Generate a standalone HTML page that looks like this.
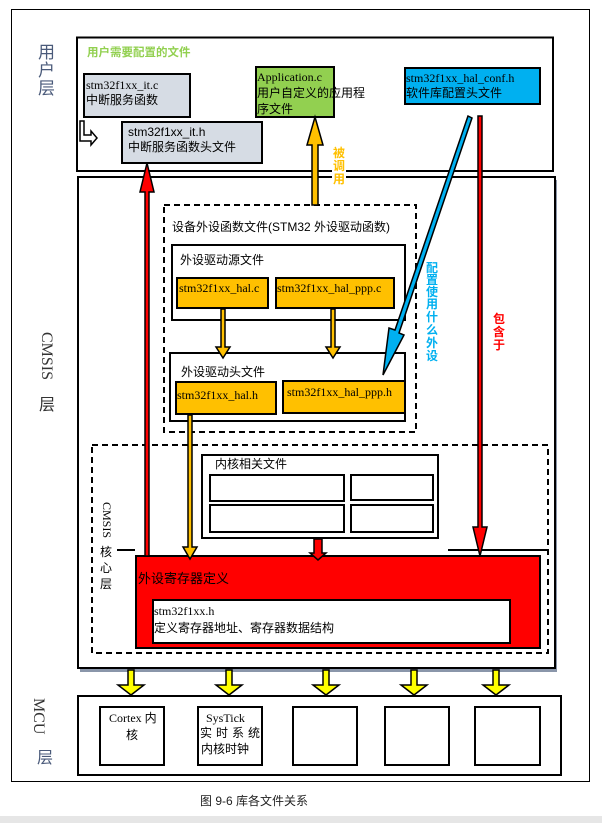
<!DOCTYPE html>
<html><head><meta charset="utf-8"><style>
html,body{margin:0;padding:0;background:#fff;}
svg{display:block;}
text{font-family:"Liberation Serif","Noto Sans CJK SC",serif;}
.s{font-family:"Liberation Sans","Noto Sans CJK SC",sans-serif;}
</style></head><body>
<svg width="602" height="823" viewBox="0 0 602 823" xmlns="http://www.w3.org/2000/svg">
<rect x="0" y="0" width="602" height="823" fill="#fff"/>
<rect x="11.5" y="9.5" width="578" height="772" fill="none" stroke="#000" stroke-width="1"/>
<rect x="0" y="816" width="602" height="7" fill="#e6e6e6"/>

<!-- user layer -->
<text x="38" y="58" font-size="17" fill="#4a5a7a" class="s">用</text>
<text x="38" y="76" font-size="17" fill="#4a5a7a" class="s">户</text>
<text x="38" y="94" font-size="17" fill="#4a5a7a" class="s">层</text>
<rect x="77" y="37.5" width="476" height="133.5" fill="none" stroke="#000" stroke-width="2"/>
<text x="87" y="56" font-size="11.5" font-weight="bold" fill="#92d050" class="s">用户需要配置的文件</text>
<rect x="84" y="74" width="106" height="43" fill="#d6dce4" stroke="#000" stroke-width="2"/>
<text x="86" y="89" font-size="12">stm32f1xx_it.c</text>
<text x="86" y="104" font-size="12" class="s">中断服务函数</text>
<path d="M84 121 v14 h7 v-4 l6 7 l-6 7 v-4 h-11 v-20z" fill="#fff" stroke="#000" stroke-width="1.5"/>
<rect x="122" y="122" width="140" height="41" fill="#d6dce4" stroke="#000" stroke-width="2"/>
<text x="128" y="136" font-size="12" class="s">stm32f1xx_it.h</text>
<text x="128" y="151" font-size="12" class="s">中断服务函数头文件</text>
<rect x="256" y="67" width="78" height="50" fill="#92d050" stroke="#000" stroke-width="2"/>
<text x="257" y="81" font-size="12">Application.c</text>
<text x="257" y="97" font-size="12" class="s">用户自定义的应用程</text>
<text x="257" y="113" font-size="12" class="s">序文件</text>
<rect x="405" y="68" width="135" height="36" fill="#00b0f0" stroke="#000" stroke-width="2"/>
<text x="406" y="82" font-size="12">stm32f1xx_hal_conf.h</text>
<text x="406" y="97" font-size="12" class="s">软件库配置头文件</text>

<!-- CMSIS layer -->
<rect x="80" y="180" width="477" height="492" fill="#8a96aa"/>
<rect x="78" y="177" width="477" height="491" fill="#fff" stroke="#000" stroke-width="2"/>
<g font-size="16" fill="#333">
<text transform="translate(42,332) rotate(90)" font-size="16">CMSIS</text>
<text x="39" y="410" font-size="16" class="s">层</text>
</g>
<rect x="164" y="205" width="252" height="227" fill="none" stroke="#000" stroke-width="2" stroke-dasharray="6,4"/>
<text x="172" y="231" font-size="12" class="s">设备外设函数文件(STM32 外设驱动函数)</text>
<rect x="172" y="245" width="233" height="75" fill="#fff" stroke="#000" stroke-width="2"/>
<text x="180" y="264" font-size="12" class="s">外设驱动源文件</text>
<rect x="177" y="278" width="91" height="30" fill="#ffc000" stroke="#000" stroke-width="2"/>
<text x="179" y="292" font-size="12">stm32f1xx_hal.c</text>
<rect x="276" y="278" width="118" height="30" fill="#ffc000" stroke="#000" stroke-width="2"/>
<text x="277" y="292" font-size="12">stm32f1xx_hal_ppp.c</text>
<rect x="170" y="353" width="235" height="68" fill="#fff" stroke="#000" stroke-width="2"/>
<text x="181" y="376" font-size="12" class="s">外设驱动头文件</text>
<rect x="176" y="382" width="100" height="32" fill="#ffc000" stroke="#000" stroke-width="2"/>
<text x="177" y="399" font-size="12">stm32f1xx_hal.h</text>
<rect x="283" y="381" width="122" height="32" fill="#ffc000" stroke="#000" stroke-width="2"/>
<text x="287" y="396" font-size="12">stm32f1xx_hal_ppp.h</text>

<rect x="92" y="445" width="456" height="208" fill="none" stroke="#000" stroke-width="2" stroke-dasharray="6,4"/>
<text transform="translate(103,502) rotate(90)" font-size="12">CMSIS</text>
<text x="100" y="556" font-size="12" class="s">核</text>
<text x="100" y="572" font-size="12" class="s">心</text>
<text x="100" y="588" font-size="12" class="s">层</text>
<line x1="117" y1="550" x2="135" y2="550" stroke="#000" stroke-width="2"/>
<line x1="448" y1="550" x2="548" y2="550" stroke="#000" stroke-width="2"/>
<rect x="202" y="455" width="236" height="83" fill="#fff" stroke="#000" stroke-width="2"/>
<text x="215" y="468" font-size="12" class="s">内核相关文件</text>
<rect x="210" y="475" width="134" height="26" fill="#fff" stroke="#000" stroke-width="2"/>
<rect x="351" y="475" width="82" height="25" fill="#fff" stroke="#000" stroke-width="2"/>
<rect x="210" y="505" width="134" height="27" fill="#fff" stroke="#000" stroke-width="2"/>
<rect x="351" y="505" width="82" height="27" fill="#fff" stroke="#000" stroke-width="2"/>
<rect x="136" y="556" width="404" height="92" fill="#ff0000" stroke="#000" stroke-width="2"/>
<text x="138" y="583" font-size="13" class="s">外设寄存器定义</text>
<rect x="153" y="600" width="357" height="43" fill="#fff" stroke="#000" stroke-width="2"/>
<text x="154" y="615" font-size="12">stm32f1xx.h</text>
<text x="154" y="632" font-size="12" class="s">定义寄存器地址、寄存器数据结构</text>

<!-- arrows -->
<!-- yellow up 被调用 -->
<path d="M312 205 V145 h-5 l8 -28 l8 28 h-5 V205 z" fill="#ffc000" stroke="#000" stroke-width="1.5"/>
<rect x="332" y="145" width="14" height="38" fill="#fff"/>
<g font-size="12" font-weight="bold" fill="#ffc000" class="s">
<text x="333" y="157" class="s">被</text><text x="333" y="170" class="s">调</text><text x="333" y="183" class="s">用</text></g>
<!-- red up arrow -->
<path d="M145 556 V192 h-5 l7 -29 l7 29 h-5 V556 z" fill="#ff0000" stroke="#000" stroke-width="1.5"/>
<!-- red down arrow -->
<path d="M478 116 V527 h-5 l7 29 l7 -29 h-5 V116 z" fill="#ff0000" stroke="#000" stroke-width="1.5"/>
<text x="493" y="323" font-size="12" font-weight="bold" fill="#ff0000" class="s">包</text>
<text x="493" y="336" font-size="12" font-weight="bold" fill="#ff0000" class="s">含</text>
<text x="493" y="349" font-size="12" font-weight="bold" fill="#ff0000" class="s">于</text>
<!-- blue diagonal -->
<path d="M468 116 L395 330 L389 328 L383 375 L404 335 L399 333 L472 118 z" fill="#00b0f0" stroke="#000" stroke-width="1.5"/>
<g font-size="12" font-weight="bold" fill="#00b0f0" class="s">
<text x="426" y="272">配</text><text x="426" y="284">置</text><text x="426" y="296">使</text><text x="426" y="308">用</text><text x="426" y="321">什</text><text x="426" y="334">么</text><text x="426" y="347">外</text><text x="426" y="360">设</text></g>
<!-- yellow down small -->
<path d="M221 309 V347 h-5 l7 11 l7 -11 h-5 V309 z" fill="#ffc000" stroke="#000" stroke-width="1.5"/>
<path d="M331 309 V347 h-5 l7 11 l7 -11 h-5 V309 z" fill="#ffc000" stroke="#000" stroke-width="1.5"/>
<path d="M188 415 V547 h-5 l7 12 l7 -12 h-5 V415 z" fill="#ffc000" stroke="#000" stroke-width="1.5"/>
<!-- red small down -->
<path d="M314 539 V553 h-4 l8 7 l8 -7 h-4 V539 z" fill="#ff0000" stroke="#000" stroke-width="1.5"/>

<!-- yellow MCU arrows -->
<g fill="#ffff00" stroke="#000" stroke-width="1.5">
<path d="M128 670 V685 h-10 l13 10 l13 -10 h-10 V670 z"/>
<path d="M226 670 V685 h-10 l13 10 l13 -10 h-10 V670 z"/>
<path d="M323 670 V685 h-10 l13 10 l13 -10 h-10 V670 z"/>
<path d="M411 670 V685 h-10 l13 10 l13 -10 h-10 V670 z"/>
<path d="M493 670 V685 h-10 l13 10 l13 -10 h-10 V670 z"/>
</g>

<!-- MCU -->
<text transform="translate(34,698) rotate(90)" font-size="16" fill="#333">MCU</text>
<text x="37" y="763" font-size="16" fill="#4a5a7a" class="s">层</text>
<rect x="78" y="696" width="483" height="79" fill="#fff" stroke="#000" stroke-width="2"/>
<rect x="100" y="707" width="64" height="58" fill="#fff" stroke="#000" stroke-width="2"/>
<rect x="198" y="707" width="64" height="58" fill="#fff" stroke="#000" stroke-width="2"/>
<rect x="293" y="707" width="64" height="58" fill="#fff" stroke="#000" stroke-width="2"/>
<rect x="385" y="707" width="64" height="58" fill="#fff" stroke="#000" stroke-width="2"/>
<rect x="475" y="707" width="65" height="58" fill="#fff" stroke="#000" stroke-width="2"/>
<text x="109" y="722" font-size="12">Cortex 内</text>
<text x="126" y="739" font-size="12" class="s">核</text>
<text x="206" y="722" font-size="12">SysTick</text>
<text x="200" y="737" font-size="12" class="s" textLength="60">实时系统</text>
<text x="201" y="753" font-size="12" class="s">内核时钟</text>

<text x="200" y="805" font-size="12" fill="#222" class="s">图 9-6 库各文件关系</text>
</svg>
</body></html>
